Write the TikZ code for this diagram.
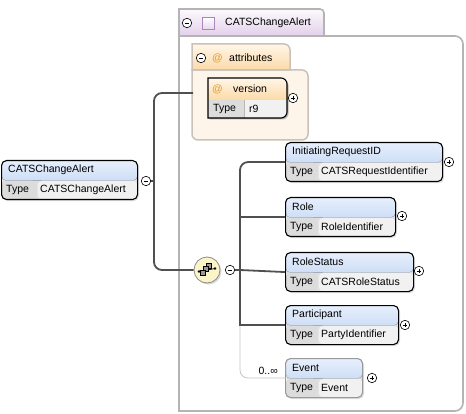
\documentclass[tikz,border=0pt]{standalone}
\usepackage{fontspec}
\setmainfont{Liberation Sans}
\usetikzlibrary{shadows,calc}
\definecolor{hdtop}{HTML}{E6EFFC}
\definecolor{hdbot}{HTML}{B9CEF0}
\definecolor{typecell}{HTML}{DCDCDC}
\definecolor{valcell}{HTML}{F1F1F1}
\definecolor{attop}{HTML}{FFF6E8}
\definecolor{atbot}{HTML}{FCDAA8}
\definecolor{atbody}{HTML}{FDF5E9}
\definecolor{atborder}{HTML}{C9C2B8}
\definecolor{ctborder}{HTML}{B4B4B4}
\definecolor{cttop}{HTML}{FCFAFD}
\definecolor{ctbot}{HTML}{E2D0EA}
\definecolor{connc}{HTML}{505050}
\definecolor{evc}{HTML}{C4C4C4}
\definecolor{atsign}{HTML}{E39A2E}
\definecolor{seqfill}{HTML}{FAF4C8}
\definecolor{purp}{HTML}{B082C0}
\definecolor{purpfill}{HTML}{E6D6EE}
\tikzset{
  x=1pt, y=-1pt,
  txt/.style={font=\fontsize{10.5}{12}\selectfont, inner sep=0pt, anchor=west, text=black},
  elfill/.style={path picture={
    \fill[top color=hdtop,bottom color=hdbot] (path picture bounding box.north west) rectangle ($(path picture bounding box.north east)+(0,20)$);
    \fill[typecell] ($(path picture bounding box.north west)+(0,20)$) rectangle ($(path picture bounding box.south west)+(#1,0)$);
    \fill[valcell] ($(path picture bounding box.north west)+(#1+1,20)$) rectangle (path picture bounding box.south east);}},
  elbox/.style={rectangle, draw=black, line width=1.1pt, rounded corners=5pt, inner sep=0pt, anchor=north west, minimum height=39pt, drop shadow={shadow xshift=1.5pt, shadow yshift=-1.5pt, opacity=.25}},
  expb/.style={circle, draw=black, line width=0.6pt, fill=white, minimum size=9.5pt, inner sep=0pt},
  minusx/.style={expb, path picture={\draw[line width=0.7pt] ($(path picture bounding box.center)+(-2.4,0)$) -- ($(path picture bounding box.center)+(2.4,0)$);}},
  plusx/.style={expb, path picture={\draw[line width=0.7pt] ($(path picture bounding box.center)+(-2.4,0)$) -- ($(path picture bounding box.center)+(2.4,0)$); \draw[line width=0.7pt] ($(path picture bounding box.center)+(0,-2.4)$) -- ($(path picture bounding box.center)+(0,2.4)$);}},
  connl/.style={draw=connc, line width=1.8pt},
  evline/.style={draw=evc, line width=0.8pt},
  seqnode/.style={circle, draw=black!45, line width=0.8pt, fill=seqfill, minimum size=26pt, inner sep=0pt, drop shadow={shadow xshift=1.5pt, shadow yshift=-1.5pt, opacity=.3}},
  sqicon/.style={draw=black, line width=0.6pt, fill=black!40, minimum size=5pt, inner sep=0pt},
}
\newcommand{\elbox}[8]{%
  \node[elbox, draw=#7, minimum width=#4pt, elfill=#8] (#1) at (#2,#3) {};
  \node[txt] (#1t) at (#2+7,#3+10) {#5};
  \node[txt] (#1k) at (#2+5,#3+29.5) {Type};
  \node[txt] (#1v) at (#2+#8+4,#3+29.5) {#6};
}
\begin{document}
\begin{tikzpicture}
\useasboundingbox (0,0) rectangle (466,414);
\fill[white] (0,0) rectangle (466,414);

% outer complex type container
\draw[ctborder, line width=1.6pt, fill=white] (179,36) -- (455,36) .. controls (459.4,36) and (463,39.6) .. (463,44) -- (463,403) .. controls (463,407.4) and (459.4,411) .. (455,411) -- (179,411) -- cycle;
\draw[ctborder, line width=1.6pt, top color=cttop, bottom color=ctbot] (179,36) -- (179,9) -- (320,9) .. controls (322.2,9) and (324,10.8) .. (324,13) -- (324,36) -- cycle;
\node[minusx] (tm) at (187,23) {};
\node[rectangle, draw=purp, line width=0.8pt, top color=white, bottom color=purpfill, minimum size=12.5pt, inner sep=0pt] (ctico) at (208.5,23.5) {};
\node[txt] (ctname) at (225,23) {CATSChangeAlert};

% attributes group
\draw[atborder, line width=1.5pt, fill=atbody] (192,70) -- (302,70) .. controls (305.3,70) and (308,72.7) .. (308,76) -- (308,134) .. controls (308,137.3) and (305.3,140) .. (302,140) -- (198,140) .. controls (194.7,140) and (192,137.3) .. (192,134) -- cycle;
\draw[atborder, line width=1.5pt, top color=attop, bottom color=atbot] (192,70) -- (192,44) -- (284,44) .. controls (287.3,44) and (290,46.7) .. (290,50) -- (290,70) -- cycle;
\node[minusx] (am) at (201,58) {};
\node[txt, text=atsign] (at1) at (212,58) {@};
\node[txt] (atname) at (229,58) {attributes};

% version attribute
\fill[black, opacity=.25] (209.5,79.5) -- (282.5,79.5) .. controls (285.8,79.5) and (288.5,82.2) .. (288.5,85.5) -- (288.5,113.5) .. controls (288.5,116.8) and (285.8,119.5) .. (282.5,119.5) -- (209.5,119.5) -- cycle;
\begin{scope}
\clip (208,78) -- (281,78) .. controls (284.3,78) and (287,80.7) .. (287,84) -- (287,112) .. controls (287,115.3) and (284.3,118) .. (281,118) -- (208,118) -- cycle;
\fill[top color=attop, bottom color=atbot] (208,78) rectangle (287,100);
\fill[typecell] (208,100) rectangle (244,118);
\fill[valcell] (245,100) rectangle (287,118);
\end{scope}
\draw[black, line width=1.1pt] (208,78) -- (281,78) .. controls (284.3,78) and (287,80.7) .. (287,84) -- (287,112) .. controls (287,115.3) and (284.3,118) .. (281,118) -- (208,118) -- cycle;
\node[inner sep=0pt, minimum width=79pt, minimum height=40pt, anchor=north west] (ver) at (208,78) {};
\node[txt, text=atsign] (at2) at (212,89) {@};
\node[txt] (vert) at (233,89) {version};
\node[txt] (verk) at (213,109) {Type};
\node[txt] (verv) at (249,109) {r9};
\node[plusx] (vp) at (293,98) {};

% left element
\elbox{cca}{1}{160}{136}{CATSChangeAlert}{CATSChangeAlert}{black}{35}
\node[minusx] (lm) at (146,181) {};

% sequence compositor
\node[seqnode] (seq) at (207,270) {};
\draw[line width=0.8pt] ($(seq.center)+(-8,1.5)$) -- ($(seq.center)+(8,-1.5)$);
\fill ($(seq.center)+(-8,1.5)$) circle (1.3);
\fill ($(seq.center)+(8,-1.5)$) circle (1.3);
\node[sqicon] (sq1) at ($(seq.center)+(1.5,-4.5)$) {};
\node[sqicon] (sq2) at ($(seq.center)+(-1.5,-1)$) {};
\node[sqicon] (sq3) at ($(seq.center)+(-4.5,2.5)$) {};
\node[minusx] (sm) at (230,270) {};

% children
\elbox{irq}{285}{142}{157}{InitiatingRequestID}{CATSRequestIdentifier}{black}{32}
\node[plusx] (irqp) at (449,162) {};
\elbox{role}{285}{197}{110}{Role}{RoleIdentifier}{black}{32}
\node[plusx] (rolep) at (402,216) {};
\elbox{rs}{285}{252}{128}{RoleStatus}{CATSRoleStatus}{black}{32}
\node[plusx] (rsp) at (419,271) {};
\elbox{part}{285}{305}{113}{Participant}{PartyIdentifier}{black}{32}
\node[plusx] (partp) at (405,325) {};
\elbox{ev}{285}{358}{77}{Event}{Event}{black!40}{32}
\node[plusx] (evp) at (372,378) {};

% connectors
\coordinate (j1) at (154,181);
\coordinate (attin) at (193,93);
\coordinate (j2) at (240,270);
\draw[connl] (lm.east) -- (j1);
\draw[connl, rounded corners=8pt] (attin) -| (j1) |- (seq.west);
\draw[connl] (sm.east) -- (j2);
\draw[evline, rounded corners=8pt] (part.west -| j2) |- (ev.west);
\draw[connl, rounded corners=8pt] (irq.west) -| (j2);
\draw[connl] (j2) |- (role.west);
\draw[connl] (j2) -- (rs.west);
\draw[connl] (j2) |- (part.west);
\node[txt, anchor=east] (evm) at (278,371) {0..∞};
\end{tikzpicture}
\end{document}
